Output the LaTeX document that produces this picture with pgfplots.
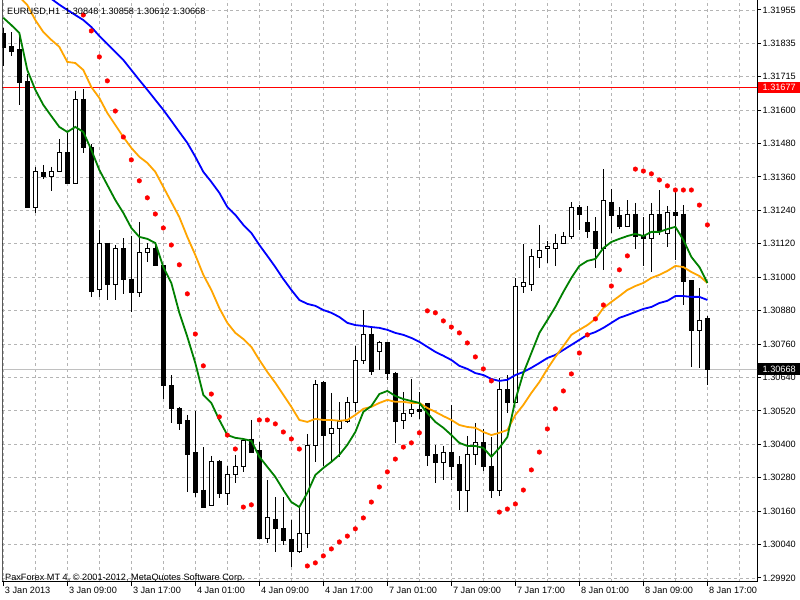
\documentclass[border=0pt]{standalone}
\usepackage{pgfplots}
\pgfplotsset{compat=1.18}
\usepackage{pgfplotstable}
\usepackage{fontspec}
\setmainfont{Liberation Sans}
\definecolor{mtgreen}{RGB}{0,128,0}
\definecolor{mtorange}{RGB}{255,165,0}
\definecolor{mtblue}{RGB}{0,0,255}
\definecolor{mtred}{RGB}{255,0,0}
\definecolor{mtgrid}{RGB}{180,180,180}
\definecolor{mtlgray}{RGB}{192,192,192}

\pgfplotstableread{
i o h l c
0 1.31869 1.31891 1.31754 1.31819
1 1.31823 1.31876 1.31790 1.31808
2 1.31812 1.31873 1.31615 1.31694
3 1.31697 1.31726 1.31246 1.31249
4 1.31249 1.31393 1.31228 1.31375
5 1.31371 1.31400 1.31350 1.31357
6 1.31360 1.31393 1.31307 1.31375
7 1.31375 1.31493 1.31375 1.31443
8 1.31443 1.31514 1.31332 1.31332
9 1.31332 1.31665 1.31332 1.31633
10 1.31636 1.31672 1.31443 1.31461
11 1.31461 1.31475 1.30927 1.30945
12 1.30952 1.31167 1.30927 1.31120
13 1.31120 1.31120 1.30916 1.30970
14 1.30970 1.31113 1.30916 1.31099
15 1.31099 1.31138 1.30938 1.30991
16 1.30991 1.31145 1.30873 1.30941
17 1.30941 1.31196 1.30927 1.31085
18 1.31085 1.31120 1.31052 1.31102
19 1.31102 1.31120 1.31038 1.31038
20 1.31038 1.31038 1.30561 1.30608
21 1.30608 1.30647 1.30475 1.30526
22 1.30526 1.30533 1.30450 1.30472
23 1.30483 1.30504 1.30228 1.30361
24 1.30368 1.30518 1.30210 1.30225
25 1.30235 1.30389 1.30174 1.30174
26 1.30178 1.30357 1.30178 1.30339
27 1.30339 1.30343 1.30207 1.30221
28 1.30221 1.30321 1.30182 1.30289
29 1.30289 1.30361 1.30260 1.30318
30 1.30318 1.30415 1.30300 1.30411
31 1.30415 1.30486 1.30368 1.30368
32 1.30375 1.30407 1.30060 1.30063
33 1.30063 1.30271 1.30045 1.30135
34 1.30131 1.30210 1.30013 1.30096
35 1.30096 1.30210 1.30038 1.30053
36 1.30056 1.30128 1.29959 1.30013
37 1.30013 1.30174 1.30010 1.30081
38 1.30081 1.30436 1.30028 1.30393
39 1.30393 1.30630 1.30336 1.30612
40 1.30619 1.30626 1.30321 1.30429
41 1.30436 1.30583 1.30339 1.30454
42 1.30454 1.30551 1.30354 1.30479
43 1.30479 1.30569 1.30475 1.30547
44 1.30547 1.30751 1.30515 1.30698
45 1.30698 1.30880 1.30687 1.30791
46 1.30794 1.30819 1.30647 1.30658
47 1.30730 1.30769 1.30665 1.30762
48 1.30762 1.30766 1.30630 1.30651
49 1.30654 1.30658 1.30404 1.30479
50 1.30483 1.30587 1.30454 1.30508
51 1.30508 1.30633 1.30497 1.30522
52 1.30522 1.30587 1.30490 1.30515
53 1.30544 1.30544 1.30321 1.30357
54 1.30361 1.30397 1.30260 1.30332
55 1.30332 1.30393 1.30271 1.30371
56 1.30371 1.30540 1.30271 1.30321
57 1.30325 1.30357 1.30164 1.30232
58 1.30232 1.30429 1.30156 1.30361
59 1.30361 1.30475 1.30325 1.30404
60 1.30404 1.30454 1.30303 1.30318
61 1.30321 1.30425 1.30207 1.30232
62 1.30232 1.30637 1.30214 1.30594
63 1.30594 1.30647 1.30511 1.30547
64 1.30547 1.30995 1.30547 1.30966
65 1.30966 1.31117 1.30941 1.30977
66 1.30973 1.31099 1.30948 1.31070
67 1.31067 1.31185 1.31031 1.31092
68 1.31099 1.31127 1.31049 1.31106
69 1.31102 1.31153 1.31038 1.31120
70 1.31117 1.31160 1.31117 1.31145
71 1.31142 1.31267 1.31135 1.31246
72 1.31249 1.31256 1.31167 1.31224
73 1.31192 1.31253 1.31138 1.31160
74 1.31163 1.31213 1.31031 1.31102
75 1.31102 1.31385 1.31024 1.31271
76 1.31267 1.31314 1.31156 1.31217
77 1.31217 1.31249 1.31170 1.31178
78 1.31181 1.31274 1.31178 1.31224
79 1.31224 1.31264 1.31099 1.31142
80 1.31145 1.31213 1.31038 1.31135
81 1.31135 1.31264 1.31016 1.31221
82 1.31221 1.31310 1.31149 1.31160
83 1.31153 1.31253 1.31106 1.31228
84 1.31228 1.31303 1.31059 1.31217
85 1.31224 1.31256 1.30898 1.30981
86 1.30984 1.30984 1.30676 1.30805
87 1.30805 1.30959 1.30673 1.30844
88 1.30848 1.30858 1.30612 1.30668
}\ohlc

\pgfplotstableread{
i g m s
0 1.31927 1.32088 1.32124
1 1.31901 1.32045 1.32102
2 1.31873 1.32002 1.32081
3 1.31740 1.31973 1.32059
4 1.31669 1.31919 1.32038
5 1.31615 1.31876 1.32016
6 1.31575 1.31848 1.31995
7 1.31536 1.31823 1.31974
8 1.31518 1.31769 1.31955
9 1.31536 1.31765 1.31937
10 1.31518 1.31740 1.31919
11 1.31454 1.31679 1.31894
12 1.31382 1.31640 1.31862
13 1.31328 1.31586 1.31833
14 1.31274 1.31543 1.31805
15 1.31228 1.31500 1.31776
16 1.31174 1.31461 1.31740
17 1.31142 1.31429 1.31704
18 1.31135 1.31407 1.31669
19 1.31120 1.31375 1.31633
20 1.31034 1.31321 1.31597
21 1.30977 1.31267 1.31558
22 1.30870 1.31213 1.31518
23 1.30784 1.31142 1.31479
24 1.30690 1.31077 1.31429
25 1.30576 1.31006 1.31375
26 1.30547 1.30952 1.31339
27 1.30486 1.30887 1.31300
28 1.30432 1.30834 1.31249
29 1.30422 1.30798 1.31221
30 1.30418 1.30776 1.31185
31 1.30411 1.30748 1.31156
32 1.30354 1.30701 1.31113
33 1.30318 1.30658 1.31074
34 1.30282 1.30619 1.31034
35 1.30235 1.30576 1.30991
36 1.30192 1.30533 1.30952
37 1.30174 1.30486 1.30916
38 1.30225 1.30479 1.30902
39 1.30289 1.30490 1.30895
40 1.30314 1.30486 1.30880
41 1.30336 1.30486 1.30870
42 1.30361 1.30483 1.30855
43 1.30397 1.30486 1.30834
44 1.30443 1.30504 1.30826
45 1.30515 1.30526 1.30823
46 1.30536 1.30533 1.30819
47 1.30579 1.30547 1.30816
48 1.30590 1.30558 1.30809
49 1.30572 1.30551 1.30798
50 1.30561 1.30551 1.30791
51 1.30554 1.30547 1.30780
52 1.30547 1.30547 1.30766
53 1.30511 1.30529 1.30748
54 1.30479 1.30515 1.30730
55 1.30458 1.30500 1.30716
56 1.30432 1.30486 1.30701
57 1.30404 1.30468 1.30680
58 1.30393 1.30461 1.30669
59 1.30393 1.30458 1.30654
60 1.30386 1.30443 1.30647
61 1.30354 1.30432 1.30633
62 1.30386 1.30440 1.30626
63 1.30425 1.30450 1.30630
64 1.30558 1.30504 1.30647
65 1.30654 1.30540 1.30658
66 1.30726 1.30583 1.30673
67 1.30798 1.30622 1.30690
68 1.30844 1.30669 1.30708
69 1.30891 1.30712 1.30719
70 1.30945 1.30751 1.30737
71 1.30995 1.30791 1.30755
72 1.31038 1.30809 1.30773
73 1.31056 1.30826 1.30791
74 1.31063 1.30848 1.30801
75 1.31102 1.30887 1.30816
76 1.31124 1.30909 1.30834
77 1.31135 1.30930 1.30852
78 1.31145 1.30952 1.30862
79 1.31153 1.30966 1.30873
80 1.31145 1.30977 1.30884
81 1.31160 1.30995 1.30891
82 1.31160 1.31006 1.30905
83 1.31170 1.31020 1.30913
84 1.31178 1.31038 1.30930
85 1.31131 1.31034 1.30930
86 1.31070 1.31016 1.30927
87 1.31034 1.31002 1.30927
88 1.30977 1.30977 1.30916
}\ind

\pgfplotstableread{
i sar
10 1.31937
11 1.31880
12 1.31787
13 1.31701
14 1.31593
15 1.31500
16 1.31418
17 1.31343
18 1.31282
19 1.31224
20 1.31174
21 1.31113
22 1.31042
23 1.30938
24 1.30794
25 1.30680
26 1.30579
27 1.30497
28 1.30432
29 1.30382
30 1.30174
31 1.30182
32 1.30486
33 1.30486
34 1.30472
35 1.30443
36 1.30418
37 1.30382
38 1.29963
39 1.29974
40 1.29999
41 1.30024
42 1.30049
43 1.30070
44 1.30096
45 1.30135
46 1.30192
47 1.30246
48 1.30300
49 1.30346
50 1.30389
51 1.30404
52 1.30440
53 1.30877
54 1.30870
55 1.30841
56 1.30819
57 1.30798
58 1.30762
59 1.30712
60 1.30669
61 1.30626
62 1.30156
63 1.30167
64 1.30185
65 1.30235
66 1.30307
67 1.30371
68 1.30454
69 1.30526
70 1.30590
71 1.30651
72 1.30726
73 1.30791
74 1.30848
75 1.30898
76 1.30966
77 1.31024
78 1.31074
79 1.31385
80 1.31378
81 1.31368
82 1.31346
83 1.31325
84 1.31310
85 1.31310
86 1.31310
87 1.31256
88 1.31185
}\sar

\begin{document}
\begin{tikzpicture}
\fill[white] (0,0) rectangle (800bp,600bp);
\begin{axis}[
  at={(2.3bp,18bp)}, anchor=south west,
  scale only axis, width=754.7bp, height=582bp,
  xmin=-0.125, xmax=94.2, ymin=1.299055, ymax=1.319908,
  axis x line*=bottom, axis y line*=right,
  axis line style={black, line width=1bp, -},
  xtick={0,8,...,88},
  xticklabels={3 Jan 2013, 3 Jan 09:00, 3 Jan 17:00, 4 Jan 01:00, 4 Jan 09:00, 4 Jan 17:00, 7 Jan 01:00, 7 Jan 09:00, 7 Jan 17:00, 8 Jan 01:00, 8 Jan 09:00, 8 Jan 17:00},
  minor xtick={4,12,...,92},
  ytick={1.299200,1.300397,1.301594,1.302792,1.303989,1.305186,1.306383,1.307580,1.308778,1.309975,1.311172,1.312369,1.313566,1.314764,1.315961,1.317158,1.318355,1.319552},
  yticklabels={1.29920,1.30040,1.30160,1.30280,1.30400,1.30520,1.30640,1.30760,1.30880,1.31000,1.31120,1.31240,1.31360,1.31480,1.31600,1.31715,1.31835,1.31955},
  xmajorgrids, xminorgrids, ymajorgrids,
  major grid style={mtgrid, dash pattern=on 3bp off 3bp, line width=0.8bp},
  minor grid style={mtgrid, dash pattern=on 3bp off 3bp, line width=0.8bp},
  tick style={black, line width=1bp},
  major tick length=4bp, minor tick length=0pt,
  tick align=outside,
  tick label style={font=\fontsize{9.2}{11}\selectfont, inner sep=0pt},
  xticklabel style={anchor=north west, xshift=1.5bp, yshift=-1bp},
  yticklabel style={anchor=west, xshift=1.5bp},
  clip=true,
]
% horizontal price lines
\addplot[forget plot, color=mtlgray, line width=1bp, mark=none] coordinates {(-1,1.30668) (95,1.30668)};
\addplot[forget plot, color=mtred, line width=1bp, mark=none] coordinates {(-1,1.31677) (95,1.31677)};
% wicks
\addplot[forget plot, draw=none, mark=none,
  error bars/.cd, y dir=minus, y explicit, error mark=none,
  error bar style={draw=black, line width=1bp, solid}]
  table[x=i, y=h, y error minus expr={\thisrow{h}-\thisrow{l}}] {\ohlc};
% bodies (black outline / fill)
\addplot[forget plot, draw=none, mark=none,
  error bars/.cd, y dir=minus, y explicit, error mark=none,
  error bar style={draw=black, line width=5.2bp, solid}]
  table[x=i, y expr={max(\thisrow{o},\thisrow{c})+0.0000179},
        y error minus expr={abs(\thisrow{o}-\thisrow{c})+0.0000358}] {\ohlc};
% bodies (white inside for up candles)
\addplot[forget plot, draw=none, mark=none,
  error bars/.cd, y dir=minus, y explicit, error mark=none,
  error bar style={draw=white, line width=3.2bp, solid}]
  table[x=i, y expr={(\thisrow{c}>\thisrow{o}) ? (\thisrow{c}-0.0000179) : 1.3225},
        y error minus expr={(\thisrow{c}>\thisrow{o}) ? max(\thisrow{c}-\thisrow{o}-0.0000358,0) : 0}] {\ohlc};
% moving averages
\addplot[forget plot, draw=mtblue, line width=1.8bp, mark=none] table[x=i, y=s] {\ind};
\addplot[forget plot, draw=mtorange, line width=1.8bp, mark=none] table[x=i, y=m] {\ind};
\addplot[forget plot, draw=mtgreen, line width=1.8bp, mark=none] table[x=i, y=g] {\ind};
% parabolic SAR
\addplot[forget plot, only marks, mark=*, mark size=2.3bp, mtred] table[x=i, y=sar] {\sar};
\coordinate (rl) at (axis cs:94.2,1.31677);
\coordinate (gl) at (axis cs:94.2,1.30668);
\draw[black, line width=1bp] (rel axis cs:0,0) -- (rel axis cs:0,1);
\end{axis}
\node[fill=mtred, text=white, anchor=west, inner sep=0pt, minimum height=11bp, minimum width=43bp, font=\fontsize{9.2}{11}\selectfont] at ([xshift=0.5bp]rl) {1.31677};
\node[fill=black, text=white, anchor=west, inner sep=0pt, minimum height=12bp, minimum width=43bp, font=\fontsize{9.2}{11}\selectfont] at ([xshift=0.5bp]gl) {1.30668};
\node[anchor=base west, inner sep=0pt, font=\fontsize{9.2}{11}\selectfont] at (7bp,585bp) {EURUSD,H1\ \ 1.30848 1.30858 1.30612 1.30668};
\node[anchor=base west, inner sep=0pt, font=\fontsize{9.2}{11}\selectfont] at (5bp,20bp) {PaxForex MT 4, © 2001-2012, MetaQuotes Software Corp.};
\pgfresetboundingbox
\useasboundingbox (0,0) rectangle (800bp,600bp);
\end{tikzpicture}
\end{document}
